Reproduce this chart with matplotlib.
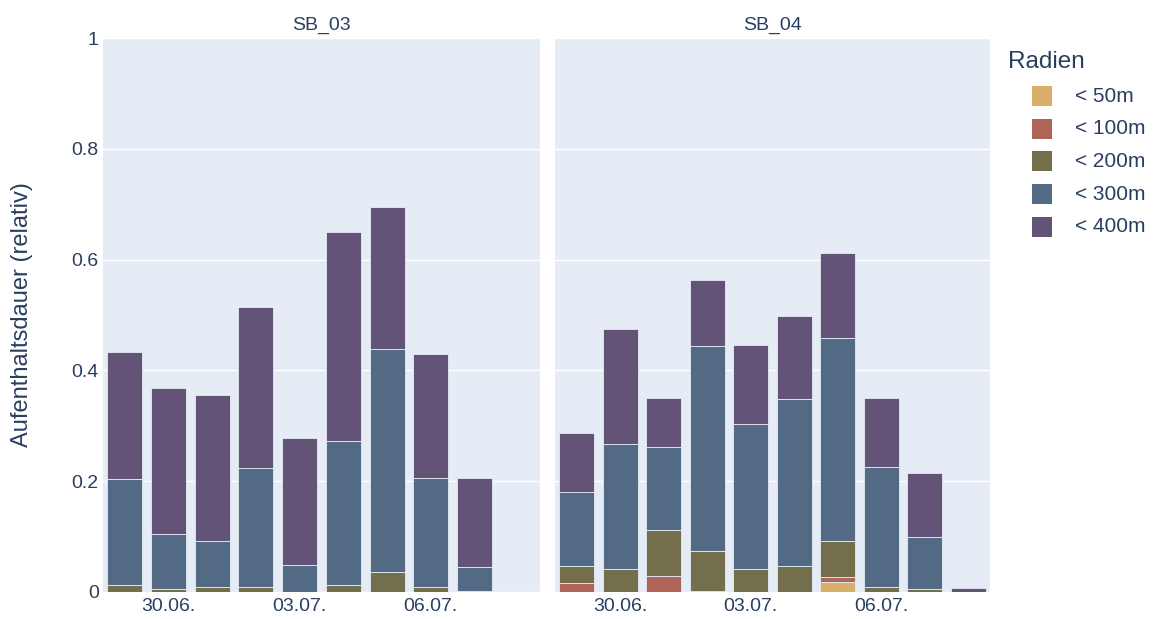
import numpy as np
import matplotlib
matplotlib.use('Agg')
import matplotlib.pyplot as plt
from matplotlib.patches import Rectangle

plt.rcParams['font.family'] = ['Liberation Sans', 'DejaVu Sans']

# dates 29.06. .. 08.07.
days = ['29.06.', '30.06.', '01.07.', '02.07.', '03.07.', '04.07.', '05.07.', '06.07.', '07.07.', '08.07.']
tick_days = ['30.06.', '03.07.', '06.07.']
radii = ['< 50m', '< 100m', '< 200m', '< 300m', '< 400m']
colors = ['#D9AF6B', '#AF6458', '#736F4C', '#526A83', '#625377']

# segment heights per radius, SB_03 (9 days)
sb03_50 = [0, 0, 0, 0, 0, 0, 0, 0, 0]
sb03_100 = [0, 0, 0, 0, 0, 0, 0, 0, 0]
sb03_200 = [0.013, 0.006, 0.009, 0.009, 0.0, 0.013, 0.036, 0.009, 0.002]
sb03_300 = [0.191, 0.099, 0.083, 0.215, 0.049, 0.260, 0.403, 0.197, 0.043]
sb03_400 = [0.229, 0.263, 0.264, 0.290, 0.229, 0.377, 0.256, 0.224, 0.161]

# SB_04 (10 days)
sb04_50 = [0, 0, 0, 0, 0, 0, 0.018, 0, 0, 0]
sb04_100 = [0.016, 0, 0.029, 0.002, 0, 0, 0.009, 0, 0, 0]
sb04_200 = [0.031, 0.042, 0.083, 0.072, 0.042, 0.047, 0.065, 0.009, 0.005, 0]
sb04_300 = [0.134, 0.225, 0.150, 0.370, 0.261, 0.301, 0.366, 0.217, 0.094, 0]
sb04_400 = [0.106, 0.208, 0.088, 0.119, 0.143, 0.150, 0.154, 0.124, 0.116, 0.007]

W, H = 1155, 619
fig = plt.figure(figsize=(W / 100, H / 100), dpi=100)

bg = '#E5ECF6'
txt = '#2A3F5F'


def panel(x0, x1, series, title, show_y):
    ax = fig.add_axes([x0 / W, 1 - 592 / H, (x1 - x0) / W, (592 - 38) / H])
    ax.set_facecolor(bg)
    bottom = np.zeros(len(series[0]))
    x = np.arange(len(series[0]))
    for vals, c in zip(series, colors):
        vals = np.array(vals)
        ax.bar(x, vals, bottom=bottom, width=0.8, color=c,
               edgecolor=bg, linewidth=0.6, zorder=2)
        bottom += vals
    ax.set_xlim(-0.5, len(days) - 0.5)
    ax.set_ylim(0, 1)
    ax.set_yticks([0, 0.2, 0.4, 0.6, 0.8, 1])
    ax.grid(axis='y', color='white', linewidth=1, zorder=0)
    ax.set_axisbelow(True)
    ax.set_xticks([days.index(d) for d in tick_days])
    ax.set_xticklabels(tick_days)
    ax.tick_params(length=0, labelsize=14, colors=txt, pad=4)
    if show_y:
        ax.set_yticklabels(['0', '0.2', '0.4', '0.6', '0.8', '1'])
        ax.tick_params(axis='y', pad=3)
    else:
        ax.set_yticklabels([])
    for s in ax.spines.values():
        s.set_visible(False)
    ax.set_title(title, fontsize=14, color=txt, pad=6)
    return ax


ax1 = panel(103, 540, [sb03_50, sb03_100, sb03_200, sb03_300, sb03_400], 'SB_03', True)
ax2 = panel(555, 990, [sb04_50, sb04_100, sb04_200, sb04_300, sb04_400], 'SB_04', False)

fig.text(22 / W, 1 - 315 / H, 'Aufenthaltsdauer (relativ)', rotation=90,
         ha='center', va='center', fontsize=17, color=txt)

# legend
fig.text(1008 / W, 1 - 62 / H, 'Radien', ha='left', va='center',
         fontsize=17.5, color=txt)
for i, (lab, c) in enumerate(zip(radii, colors)):
    yc = 96 + i * 32.7
    fig.patches.append(Rectangle((1032 / W, 1 - (yc + 10) / H), 20 / W, 20 / H,
                                 transform=fig.transFigure, facecolor=c,
                                 edgecolor='none', figure=fig))
    fig.text(1075 / W, 1 - yc / H, lab, ha='left', va='center',
             fontsize=15, color=txt)

fig.savefig('out.png', dpi=100, facecolor='white')
